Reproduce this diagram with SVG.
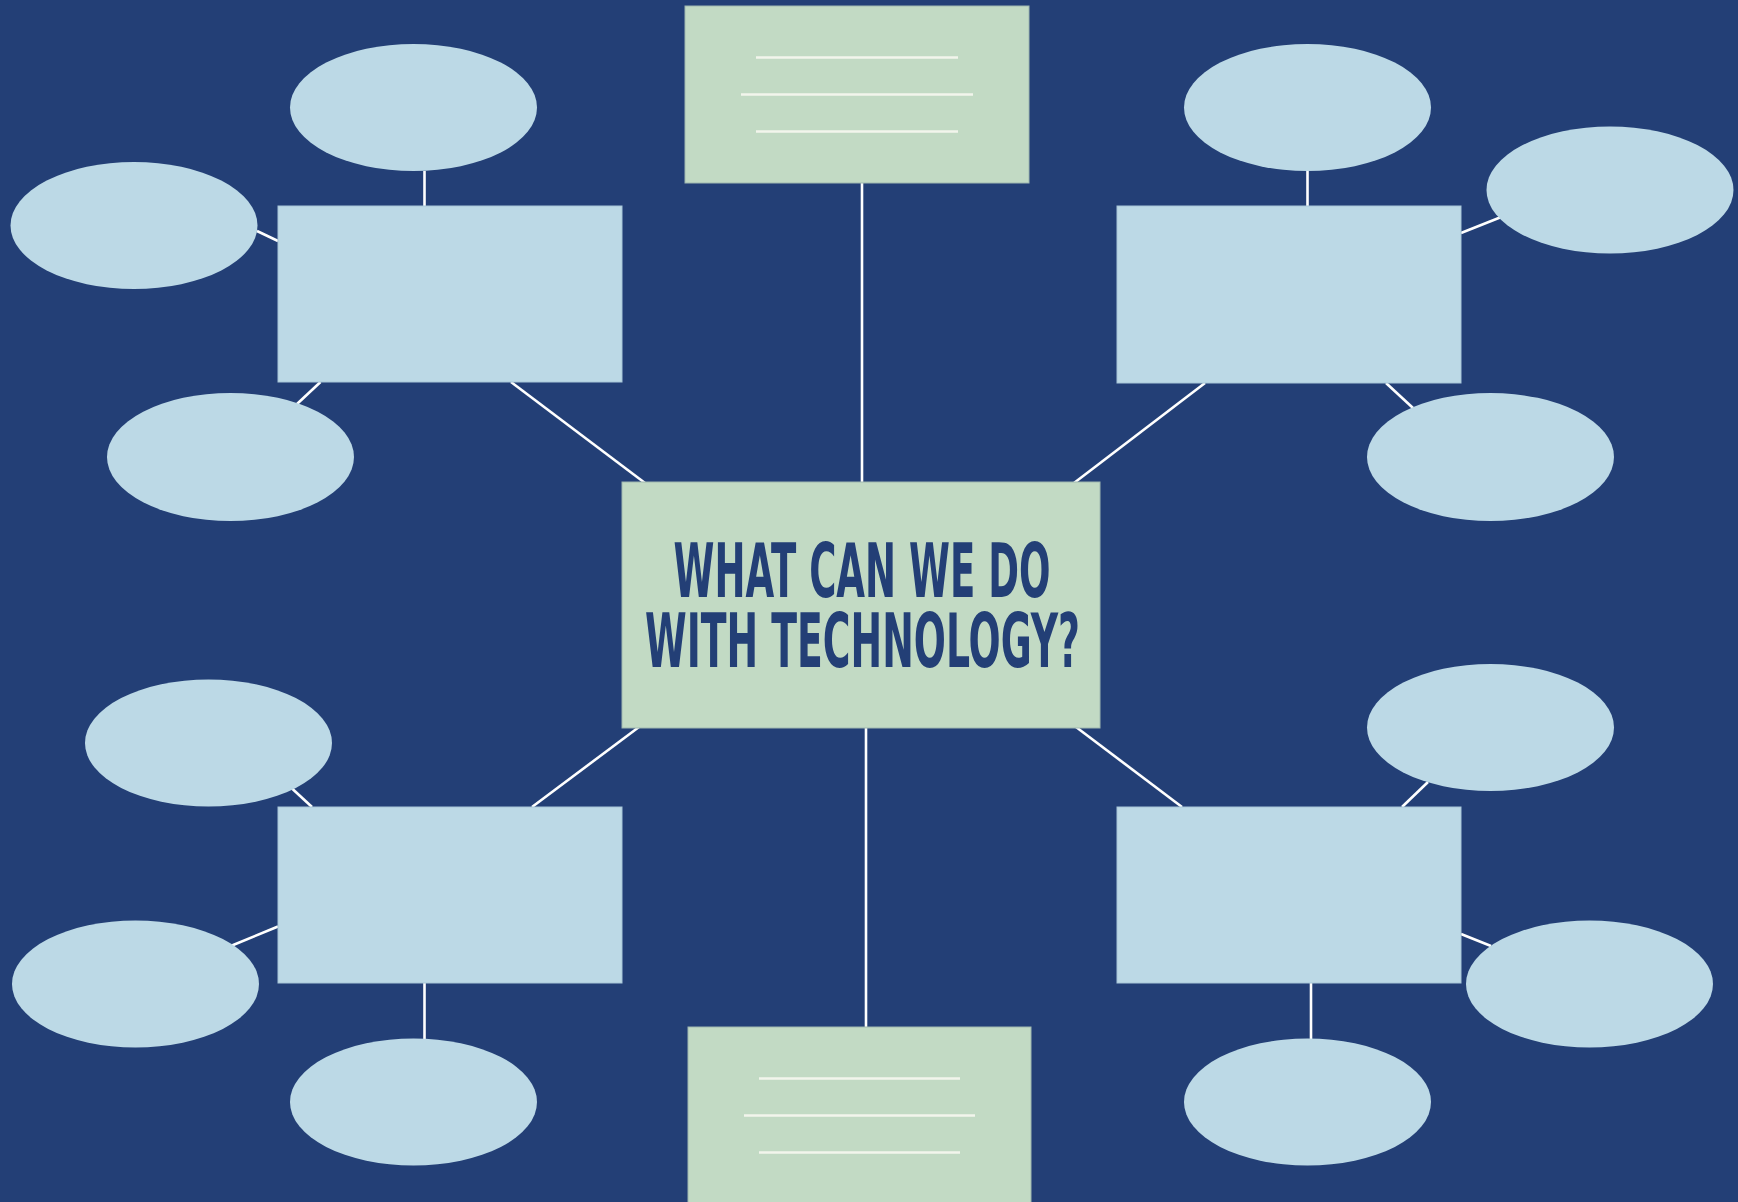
<svg xmlns="http://www.w3.org/2000/svg" width="1738" height="1202" viewBox="0 0 1738 1202">
<style>
.bg{fill:#233f76}
.oval{fill:#bcd9e6}
.box{fill:#bcd9e6;stroke:#a8c6d8;stroke-width:1}
.green{fill:#c2dac4;stroke:#9fb8b0;stroke-width:1}
.conn{stroke:#ffffff;stroke-width:2.6;fill:none}
.rule{stroke:#f2f5ec;stroke-width:2.6}
.title{font-family:'DejaVu Sans Condensed','DejaVu Sans',sans-serif;font-stretch:condensed;font-weight:bold;font-size:74px;fill:#233f76}
</style>
<rect class="bg" x="0" y="0" width="1738" height="1202"/>
<g id="connectors">
  <line class="conn" x1="862" y1="183" x2="862" y2="482"/>
  <line class="conn" x1="866" y1="728" x2="866" y2="1027"/>
  <line class="conn" x1="511" y1="382" x2="645" y2="483"/>
  <line class="conn" x1="1205" y1="383" x2="1074" y2="483"/>
  <line class="conn" x1="532" y1="807" x2="639" y2="727"/>
  <line class="conn" x1="1182" y1="807" x2="1076" y2="727"/>
  <line class="conn" x1="424.5" y1="171" x2="424.5" y2="206"/>
  <line class="conn" x1="257" y1="231" x2="278" y2="241"/>
  <line class="conn" x1="320.5" y1="382" x2="297" y2="404"/>
  <line class="conn" x1="1307.5" y1="171" x2="1307.5" y2="206"/>
  <line class="conn" x1="1461" y1="233" x2="1500" y2="217.5"/>
  <line class="conn" x1="1386" y1="383" x2="1413" y2="408"/>
  <line class="conn" x1="292" y1="788.5" x2="312" y2="807"/>
  <line class="conn" x1="278" y1="926.5" x2="232" y2="945.5"/>
  <line class="conn" x1="424.5" y1="983" x2="424.5" y2="1039"/>
  <line class="conn" x1="1428" y1="782" x2="1402" y2="807"/>
  <line class="conn" x1="1461" y1="934" x2="1491" y2="946"/>
  <line class="conn" x1="1311" y1="983" x2="1311" y2="1039"/>
</g>
<g id="center">
  <rect class="green" x="622" y="482" width="478" height="246"/>
  <text class="title" x="862" y="597" text-anchor="middle" textLength="377" lengthAdjust="spacingAndGlyphs">WHAT CAN WE DO</text>
  <text class="title" x="862.5" y="667" text-anchor="middle" textLength="435" lengthAdjust="spacingAndGlyphs">WITH TECHNOLOGY?</text>
</g>
<g id="top-note">
  <rect class="green" x="685" y="6" width="344" height="177"/>
  <line class="rule" x1="756" y1="57.5" x2="958" y2="57.5"/>
  <line class="rule" x1="741" y1="94.5" x2="973" y2="94.5"/>
  <line class="rule" x1="756" y1="131.5" x2="958" y2="131.5"/>
</g>
<g id="bottom-note">
  <rect class="green" x="688" y="1027" width="343" height="180"/>
  <line class="rule" x1="759" y1="1078.5" x2="960" y2="1078.5"/>
  <line class="rule" x1="744" y1="1115.5" x2="975" y2="1115.5"/>
  <line class="rule" x1="759" y1="1152.5" x2="960" y2="1152.5"/>
</g>
<g id="tl-box"><rect class="box" x="278" y="206" width="344" height="176"/></g>
<g id="tl-oval-top"><ellipse class="oval" cx="413.5" cy="107.5" rx="123.5" ry="63.5"/></g>
<g id="tl-oval-left"><ellipse class="oval" cx="134" cy="225.5" rx="123.5" ry="63.5"/></g>
<g id="tl-oval-bottom"><ellipse class="oval" cx="230.5" cy="457" rx="123.5" ry="64"/></g>
<g id="tr-box"><rect class="box" x="1117" y="206" width="344" height="177"/></g>
<g id="tr-oval-top"><ellipse class="oval" cx="1307.5" cy="107.5" rx="123.5" ry="63.5"/></g>
<g id="tr-oval-right"><ellipse class="oval" cx="1610" cy="190" rx="123.5" ry="63.5"/></g>
<g id="tr-oval-bottom"><ellipse class="oval" cx="1490.5" cy="457" rx="123.5" ry="64"/></g>
<g id="bl-box"><rect class="box" x="278" y="807" width="344" height="176"/></g>
<g id="bl-oval-top"><ellipse class="oval" cx="208.5" cy="743" rx="123.5" ry="63.5"/></g>
<g id="bl-oval-left"><ellipse class="oval" cx="135.5" cy="984" rx="123.5" ry="63.5"/></g>
<g id="bl-oval-bottom"><ellipse class="oval" cx="413.5" cy="1102" rx="123.5" ry="63.5"/></g>
<g id="br-box"><rect class="box" x="1117" y="807" width="344" height="176"/></g>
<g id="br-oval-top"><ellipse class="oval" cx="1490.5" cy="727.5" rx="123.5" ry="63.5"/></g>
<g id="br-oval-right"><ellipse class="oval" cx="1589.5" cy="984" rx="123.5" ry="63.5"/></g>
<g id="br-oval-bottom"><ellipse class="oval" cx="1307.5" cy="1102" rx="123.5" ry="63.5"/></g>
</svg>
